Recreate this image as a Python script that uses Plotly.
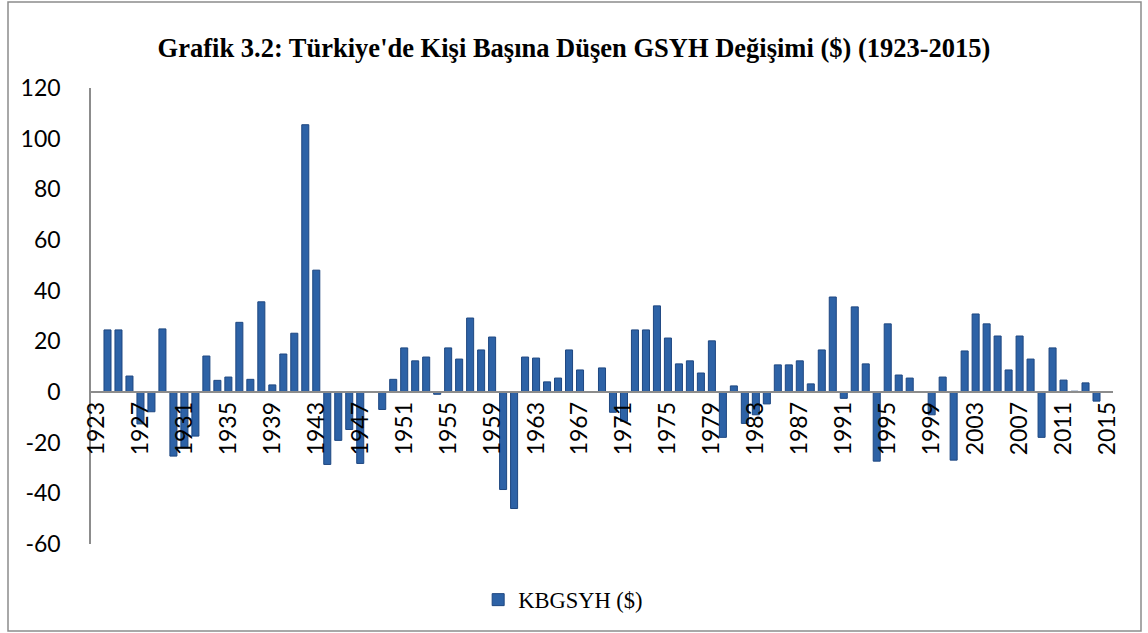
import plotly.graph_objects as go

years = [str(y) for y in range(1923, 2016)]
# per-capita GDP change ($); None = no bar
values = [None,
    24.5, 24.5, 6.3, -12.6, -7.8, 24.9, -25.3, -22.0, -17.4, 14.2,
    4.6, 5.9, 27.5, 5.0, 35.6, 2.8, 15.0, 23.2, 105.5, 48.1,
    -28.6, -19.1, -14.8, -28.2, 0.0, -6.9, 5.0, 17.4, 12.3, 13.8,
    -0.9, 17.4, 13.0, 29.2, 16.6, 21.7, -38.5, -46.0, 13.8, 13.4,
    4.0, 5.5, 16.6, 8.7, 0.0, 9.5, -8.0, -11.6, 24.5, 24.5,
    34.0, 21.3, 11.1, 12.3, 7.5, 20.2, -17.9, 2.4, -12.4, -9.0,
    -4.7, 10.7, 10.7, 12.3, 3.2, 16.6, 37.5, -2.5, 33.6, 11.1,
    -27.3, 26.9, 6.7, 5.5, 0.0, -9.0, 5.9, -26.9, 16.2, 30.8,
    26.9, 22.1, 8.7, 22.1, 13.0, -17.9, 17.4, 4.7, 0.3, 3.6,
    -3.6, None]
tick_labels = years[::4]
y_ticks = [-60, -40, -20, 0, 20, 40, 60, 80, 100, 120]
y_tick_text = [str(v) for v in y_ticks]

title_text = "Grafik 3.2: Türkiye'de Kişi Başına Düşen GSYH Değişimi ($) (1923-2015)"
series_name = "KBGSYH ($)"

fig = go.Figure()
fig.add_trace(go.Bar(
    x=years, y=values, name=series_name,
    marker=dict(color="#2D62A6", line=dict(color="#1E4781", width=1)),
    showlegend=True,
))

fig.update_layout(
    width=1148, height=633,
    margin=dict(l=91, r=35, t=88, b=89, autoexpand=False),
    paper_bgcolor="white", plot_bgcolor="white",
    bargap=0.36,
    title=dict(text=f"<b>{title_text}</b>", x=0.5, xanchor="center",
               y=1 - 48 / 633, yanchor="middle",
               font=dict(family="Liberation Serif", size=26.5, color="black")),
    xaxis=dict(type="category", tickmode="array", tickvals=tick_labels, ticktext=tick_labels,
               tickangle=-90, showgrid=False, showline=True, linecolor="#8C8C8C", linewidth=1.5,
               anchor="free", position=60 / 180, ticks="", automargin=False,
               tickfont=dict(family="Lato", size=23, color="black"),
               range=[-0.5, 92.5]),
    yaxis=dict(range=[-60, 120], tickvals=y_ticks, ticktext=y_tick_text,
               showgrid=False, zeroline=False, automargin=False,
               showline=True, linecolor="#8C8C8C", linewidth=1.5, ticks="",
               ticklabelstandoff=24,
               tickfont=dict(family="Lato", size=23, color="black")),
    legend=dict(orientation="h", x=0.462, xanchor="center", y=-(600 - 544) / 456, yanchor="middle",
                font=dict(family="Liberation Serif", size=22.5, color="black")),
    shapes=[dict(type="rect", xref="paper", yref="paper",
                 x0=(8 - 91) / 1022, x1=(1141 - 91) / 1022,
                 y0=(544 - 631) / 456, y1=(544 - 2) / 456,
                 line=dict(color="#8C8C8C", width=1.5))],
)

fig.write_html("out.html", config={"displayModeBar": False},
               post_script="document.body.style.margin='0';document.body.style.overflow='hidden';")
